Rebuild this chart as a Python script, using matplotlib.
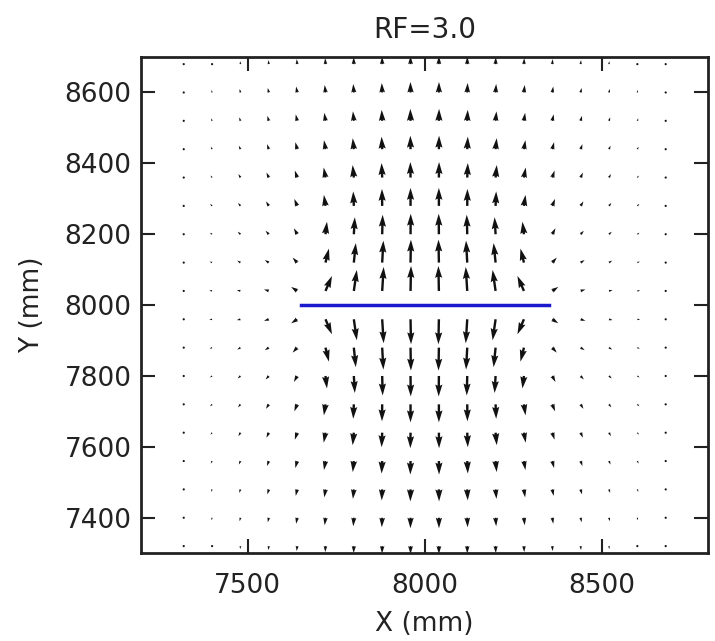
import matplotlib
matplotlib.use('Agg')
import matplotlib.pyplot as plt
import numpy as np

# grille des points (mm)
x_pts = [7320, 7400, 7480, 7560, 7640, 7720, 7800, 7880, 7960,
         8040, 8120, 8200, 8280, 8360, 8440, 8520, 8600, 8680]
y_pts = [8680, 8600, 8520, 8440, 8360, 8280, 8200, 8120, 8040,
         7960, 7880, 7800, 7720, 7640, 7560, 7480, 7400, 7320]

# composante horizontale (lignes de haut en bas)
u = [
    [-0.2, -0.3, -0.3, -0.4, -0.4, -0.3, -0.2, -0.1, 0.0, 0.0, 0.1, 0.2, 0.3, 0.4, 0.4, 0.3, 0.3, 0.2],
    [-0.5, -0.6, -0.8, -1.0, -1.0, -0.8, -0.6, -0.4, -0.1, 0.1, 0.4, 0.6, 0.8, 1.0, 1.0, 0.8, 0.6, 0.5],
    [-0.8, -1.0, -1.2, -1.4, -1.4, -1.2, -0.9, -0.5, -0.2, 0.2, 0.5, 0.9, 1.2, 1.4, 1.4, 1.2, 1.0, 0.8],
    [-1.0, -1.3, -1.6, -1.8, -1.8, -1.5, -1.1, -0.6, -0.2, 0.2, 0.6, 1.1, 1.5, 1.8, 1.8, 1.6, 1.3, 1.0],
    [-1.3, -1.6, -2.0, -2.3, -2.3, -1.8, -1.2, -0.6, -0.2, 0.2, 0.6, 1.2, 1.8, 2.3, 2.3, 2.0, 1.6, 1.3],
    [-1.5, -2.0, -2.4, -2.8, -2.8, -1.6, -0.6, -0.2, 0.0, 0.0, 0.2, 0.6, 1.6, 2.8, 2.8, 2.4, 2.0, 1.5],
    [-1.8, -2.2, -2.8, -3.2, -3.2, 1.5, 1.0, 0.5, 0.2, -0.2, -0.5, -1.0, -1.5, 3.2, 3.2, 2.8, 2.2, 1.8],
    [-2.0, -2.5, -3.2, -4.0, -4.5, 3.5, 2.0, 1.2, 0.4, -0.4, -1.2, -2.0, -3.5, 4.5, 4.0, 3.2, 2.5, 2.0],
    [-2.2, -2.8, -3.6, -4.8, -6.0, 6.5, 3.0, 1.5, 0.5, -0.5, -1.5, -3.0, -6.5, 6.0, 4.8, 3.6, 2.8, 2.2],
    [-2.2, -2.8, -3.6, -4.8, -6.0, 6.5, 3.0, 1.5, 0.5, -0.5, -1.5, -3.0, -6.5, 6.0, 4.8, 3.6, 2.8, 2.2],
    [-2.0, -2.5, -3.2, -4.0, -4.5, 3.5, 2.0, 1.2, 0.4, -0.4, -1.2, -2.0, -3.5, 4.5, 4.0, 3.2, 2.5, 2.0],
    [-1.8, -2.2, -2.8, -3.2, -3.2, 1.5, 1.0, 0.5, 0.2, -0.2, -0.5, -1.0, -1.5, 3.2, 3.2, 2.8, 2.2, 1.8],
    [-1.5, -2.0, -2.4, -2.8, -2.8, -1.6, -0.6, -0.2, 0.0, 0.0, 0.2, 0.6, 1.6, 2.8, 2.8, 2.4, 2.0, 1.5],
    [-1.3, -1.6, -2.0, -2.3, -2.3, -1.8, -1.2, -0.6, -0.2, 0.2, 0.6, 1.2, 1.8, 2.3, 2.3, 2.0, 1.6, 1.3],
    [-1.0, -1.3, -1.6, -1.8, -1.8, -1.5, -1.1, -0.6, -0.2, 0.2, 0.6, 1.1, 1.5, 1.8, 1.8, 1.6, 1.3, 1.0],
    [-0.8, -1.0, -1.2, -1.4, -1.4, -1.2, -0.9, -0.5, -0.2, 0.2, 0.5, 0.9, 1.2, 1.4, 1.4, 1.2, 1.0, 0.8],
    [-0.5, -0.6, -0.8, -1.0, -1.0, -0.8, -0.6, -0.4, -0.1, 0.1, 0.4, 0.6, 0.8, 1.0, 1.0, 0.8, 0.6, 0.5],
    [-0.2, -0.3, -0.3, -0.4, -0.4, -0.3, -0.2, -0.1, 0.0, 0.0, 0.1, 0.2, 0.3, 0.4, 0.4, 0.3, 0.3, 0.2],
]

# composante verticale (lignes de haut en bas)
v = [
    [1.5, 2.0, 3.0, 4.0, 5.0, 6.0, 7.0, 7.5, 8.0, 8.0, 7.5, 7.0, 6.0, 5.0, 4.0, 3.0, 2.0, 1.5],
    [1.5, 2.5, 3.5, 4.5, 6.0, 7.5, 8.5, 9.5, 10.5, 10.5, 9.5, 8.5, 7.5, 6.0, 4.5, 3.5, 2.5, 1.5],
    [1.5, 2.5, 3.5, 5.0, 6.5, 8.0, 9.5, 11.0, 12.0, 12.0, 11.0, 9.5, 8.0, 6.5, 5.0, 3.5, 2.5, 1.5],
    [1.5, 2.5, 3.5, 5.0, 7.0, 9.0, 11.0, 12.5, 13.5, 13.5, 12.5, 11.0, 9.0, 7.0, 5.0, 3.5, 2.5, 1.5],
    [1.5, 2.0, 3.5, 5.0, 7.0, 10.0, 12.5, 14.5, 15.5, 15.5, 14.5, 12.5, 10.0, 7.0, 5.0, 3.5, 2.0, 1.5],
    [1.0, 2.0, 3.0, 4.5, 7.0, 11.0, 14.5, 17.0, 18.0, 18.0, 17.0, 14.5, 11.0, 7.0, 4.5, 3.0, 2.0, 1.0],
    [1.0, 1.5, 2.5, 3.5, 6.0, 12.5, 17.0, 19.5, 20.5, 20.5, 19.5, 17.0, 12.5, 6.0, 3.5, 2.5, 1.5, 1.0],
    [0.5, 1.0, 2.0, 2.5, 5.0, 14.0, 19.5, 22.0, 23.0, 23.0, 22.0, 19.5, 14.0, 5.0, 2.5, 2.0, 1.0, 0.5],
    [0.3, 0.5, 0.8, 1.5, 4.0, 15.0, 21.0, 24.0, 25.0, 25.0, 24.0, 21.0, 15.0, 4.0, 1.5, 0.8, 0.5, 0.3],
    [-0.3, -0.5, -0.8, -1.5, -4.0, -15.0, -21.0, -24.0, -25.0, -25.0, -24.0, -21.0, -15.0, -4.0, -1.5, -0.8, -0.5, -0.3],
    [-0.5, -1.0, -2.0, -2.5, -5.0, -14.0, -19.5, -22.0, -23.0, -23.0, -22.0, -19.5, -14.0, -5.0, -2.5, -2.0, -1.0, -0.5],
    [-1.0, -1.5, -2.5, -3.5, -6.0, -12.5, -17.0, -19.5, -20.5, -20.5, -19.5, -17.0, -12.5, -6.0, -3.5, -2.5, -1.5, -1.0],
    [-1.0, -2.0, -3.0, -4.5, -7.0, -11.0, -14.5, -17.0, -18.0, -18.0, -17.0, -14.5, -11.0, -7.0, -4.5, -3.0, -2.0, -1.0],
    [-1.5, -2.0, -3.5, -5.0, -7.0, -10.0, -12.5, -14.5, -15.5, -15.5, -14.5, -12.5, -10.0, -7.0, -5.0, -3.5, -2.0, -1.5],
    [-1.5, -2.5, -3.5, -5.0, -7.0, -9.0, -11.0, -12.5, -13.5, -13.5, -12.5, -11.0, -9.0, -7.0, -5.0, -3.5, -2.5, -1.5],
    [-1.5, -2.5, -3.5, -5.0, -6.5, -8.0, -9.5, -11.0, -12.0, -12.0, -11.0, -9.5, -8.0, -6.5, -5.0, -3.5, -2.5, -1.5],
    [-1.5, -2.5, -3.5, -4.5, -6.0, -7.5, -8.5, -9.5, -10.5, -10.5, -9.5, -8.5, -7.5, -6.0, -4.5, -3.5, -2.5, -1.5],
    [-1.5, -2.0, -3.0, -4.0, -5.0, -6.0, -7.0, -7.5, -8.0, -8.0, -7.5, -7.0, -6.0, -5.0, -4.0, -3.0, -2.0, -1.5],
]

# fissure
crack_x = [7650, 8350]
crack_y = [8000, 8000]

xticks = [7500, 8000, 8500]
yticks = [7400, 7600, 7800, 8000, 8200, 8400, 8600]

plt.rcParams['font.family'] = 'DejaVu Sans'
plt.rcParams['font.size'] = 19

fig = plt.figure(figsize=(7.15, 6.41), dpi=100)
ax = fig.add_axes([0.197, 0.137, 0.794, 0.774])

X, Y = np.meshgrid(x_pts, y_pts)
ax.quiver(X, Y, np.array(u), np.array(v), color='#111111',
          angles='xy', scale_units='xy', scale=0.355, width=0.0042)
ax.plot(crack_x, crack_y, color='#1a1acc', linewidth=2.5)

ax.set_xlim(7200, 8800)
ax.set_ylim(7300, 8700)
ax.set_aspect('equal')
ax.set_xticks(xticks)
ax.set_yticks(yticks)
ax.tick_params(direction='in', length=10, width=1.5, top=True, right=True,
               labelsize=19, colors='#222222')
ax.tick_params(axis='x', pad=14)
ax.tick_params(axis='y', pad=7)
for s in ax.spines.values():
    s.set_linewidth(2)
    s.set_color('#222222')

ax.set_xlabel('X (mm)', fontsize=19, color='#222222', labelpad=9)
ax.set_ylabel('Y (mm)', fontsize=19, color='#222222', labelpad=14)
ax.set_title('RF=3.0', fontsize=20, color='#222222', pad=14)

fig.savefig('out.png', dpi=100)
